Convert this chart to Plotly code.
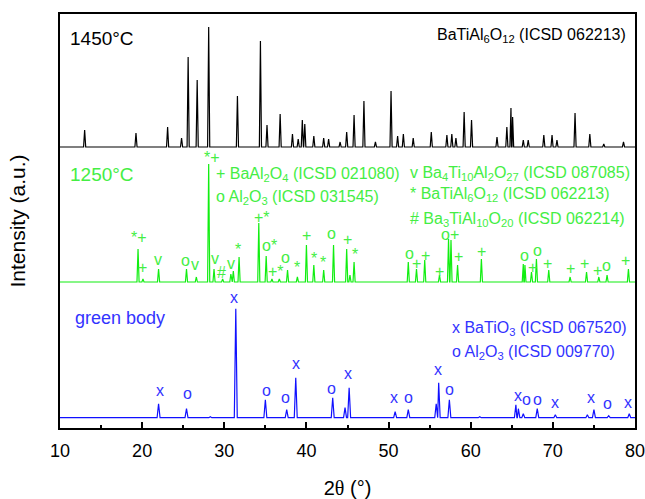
import plotly.graph_objects as go

# ---------------- data ----------------
# 2theta (deg) of peaks and peak heights above baseline (arbitrary units)
black_pos = [13.0, 19.25, 23.1, 24.8, 25.6, 26.7, 28.1, 31.6, 34.4, 35.2, 36.8, 38.3, 39.0, 39.5, 39.8,
             40.9, 42.1, 42.7, 44.1, 44.9, 45.8, 47.0, 48.4, 50.3, 51.1, 51.8, 53.0, 55.2, 57.1, 57.7,
             58.2, 59.2, 60.1, 63.2, 64.4, 64.9, 65.1, 66.4, 67.0, 68.9, 69.9, 70.5, 72.7, 74.5, 76.2, 78.6]
black_int = [17, 14, 20, 9, 90, 67, 120, 51, 106, 22, 33, 13, 8, 27, 23,
             11, 9, 8, 5, 15, 32, 46, 5, 56, 11, 13, 9, 15, 12, 13,
             9, 35, 27, 10, 20, 39, 30, 7, 7, 12, 12, 7, 34, 13, 3, 5]

green_pos = [19.5, 20.1, 22.0, 25.4, 26.6, 28.1, 28.75, 29.8, 30.8, 31.1, 31.8, 34.2, 35.1, 35.8, 36.7,
             37.7, 38.9, 40.0, 40.9, 42.1, 43.3, 44.9, 45.3, 45.8, 52.4, 53.4, 54.4, 56.2, 57.3, 57.6,
             58.4, 61.3, 66.4, 66.6, 67.4, 68.0, 69.5, 72.1, 74.1, 75.6, 76.6, 79.2]
green_int = [33, 3, 13, 13, 5, 118, 13, 3, 8, 11, 25, 59, 26, 3, 3,
             12, 5, 37, 17, 12, 37, 33, 7, 20, 20, 13, 22, 7, 43, 42,
             17, 23, 18, 17, 10, 23, 12, 5, 10, 5, 7, 13]

blue_pos = [22.0, 25.4, 28.3, 31.4, 35.0, 37.6, 38.7, 43.2, 44.7, 45.2, 50.8, 52.4, 55.8, 56.1, 57.4,
            61.1, 65.5, 65.8, 66.4, 68.1, 70.3, 74.2, 75.0, 76.8, 79.3]
blue_int = [14, 9, 1, 109, 18, 8, 40, 20, 10, 30, 6, 8, 14, 35, 18,
            1, 13, 9, 4, 9, 3, 3, 8, 2, 4]

# phase marks above the peaks: symbol, 2theta, level
green_mark_sym = ["*+", "*+", "+", "v", "o", "v", "v", "#", "v", "*", "+*", "o*", "+*", "o", "*", "+", "*", "*",
                  "o", "+", "*", "o", "+", "+", "+", "o+", "+", "+", "o", "+", "o", "+", "+", "+", "+", "o", "+"]
green_mark_x = [28.5, 19.6, 20.1, 21.9, 25.3, 26.4, 28.9, 29.7, 30.8, 31.7, 34.6, 35.5, 36.3, 37.5, 38.9, 40.0,
                40.9, 42.0, 43.1, 45.0, 45.9, 52.5, 53.4, 54.5, 56.2, 57.5, 58.5, 61.3, 66.5, 67.5, 68.1, 69.4,
                72.2, 73.9, 75.4, 76.5, 78.9]
green_mark_y = [271, 191, 161, 169, 168, 164, 170, 156, 165, 179, 211, 183, 157, 171, 161, 193,
                170, 166, 195, 189, 174, 175, 165, 173, 157, 194, 172, 177, 173, 161, 178, 165,
                160, 165, 158, 163, 168]

blue_mark_sym = ["x", "o", "x", "o", "o", "x", "o", "x", "x", "o", "x", "o", "x", "o", "o", "x", "x", "o", "x"]
blue_mark_x = [22.2, 25.5, 31.2, 35.1, 37.5, 38.7, 43.1, 45.0, 50.7, 52.4, 56.0, 57.4, 65.8, 66.8, 68.1,
               70.2, 74.7, 76.7, 79.1]
blue_mark_y = [38, 35, 131, 38, 31, 65, 40, 55, 31, 31, 59, 39, 33, 29, 29, 26, 31, 25, 26]

x_ticks = [10, 20, 30, 40, 50, 60, 70, 80]

# ---------------- styling ----------------
FONT = "Liberation Sans, Arial, sans-serif"
SERIF = "Liberation Serif, Times New Roman, serif"
BLACK = "#000000"
GREEN_LINE = "#11ee11"
GREEN_TXT = "#44ee44"
BLUE_LINE = "#1010ff"
BLUE_TXT = "#3333ff"

offsets = {"black": 281, "green": 146, "blue": 10.3}
half_w = {"black": 0.13, "green": 0.13, "blue": 0.18}


def profile(pos, inten, base, w):
    pts = [(10.0, base)]
    for p, h in zip(pos, inten):
        pts += [(p - w, base), (p, base + h), (p + w, base)]
    pts.append((80.0, base))
    pts.sort(key=lambda t: t[0])
    return [t[0] for t in pts], [t[1] for t in pts]


fig = go.Figure()
for name, pos, inten, col in [("blue", blue_pos, blue_int, BLUE_LINE),
                              ("green", green_pos, green_int, GREEN_LINE),
                              ("black", black_pos, black_int, BLACK)]:
    xs, ys = profile(pos, inten, offsets[name], half_w[name])
    fig.add_trace(go.Scatter(x=xs, y=ys, mode="lines", line=dict(color=col, width=1.2),
                             showlegend=False, hoverinfo="skip"))

ann = []
for s, x, y in zip(green_mark_sym, green_mark_x, green_mark_y):
    ann.append(dict(x=x, y=y, text=s, showarrow=False, font=dict(family=FONT, size=16, color=GREEN_TXT),
                    xanchor="center", yanchor="middle"))
for s, x, y in zip(blue_mark_sym, blue_mark_x, blue_mark_y):
    ann.append(dict(x=x, y=y, text=s, showarrow=False, font=dict(family=FONT, size=16, color=BLUE_TXT),
                    xanchor="center", yanchor="middle"))


def label(x, y, text, color, size=16, xanchor="left"):
    ann.append(dict(x=x, y=y, text=text, showarrow=False, font=dict(family=FONT, size=size, color=color),
                    xanchor=xanchor, yanchor="middle"))


label(11.0, 390, "1450°C", BLACK, size=19)
label(79.2, 393, "BaTiAl<sub>6</sub>O<sub>12</sub> (ICSD 062213)", BLACK, xanchor="right")
label(11.0, 254, "1250°C", GREEN_TXT, size=19)
label(28.8, 254, "+ BaAl<sub>2</sub>O<sub>4</sub> (ICSD 021080)", GREEN_TXT)
label(28.8, 231, "o Al<sub>2</sub>O<sub>3</sub> (ICSD 031545)", GREEN_TXT)
label(52.4, 255, "v Ba<sub>4</sub>Ti<sub>10</sub>Al<sub>2</sub>O<sub>27</sub> (ICSD 087085)", GREEN_TXT)
label(52.4, 234, "* BaTiAl<sub>6</sub>O<sub>12</sub> (ICSD 062213)", GREEN_TXT)
label(52.4, 209, "# Ba<sub>3</sub>TiAl<sub>10</sub>O<sub>20</sub> (ICSD 062214)", GREEN_TXT)
label(11.6, 110, "green body", BLUE_TXT, size=18)
label(57.5, 100, "x BaTiO<sub>3</sub> (ICSD 067520)", BLUE_TXT)
label(57.5, 76, "o Al<sub>2</sub>O<sub>3</sub> (ICSD 009770)", BLUE_TXT)

x_title = "2<span style='font-family:" + SERIF + "'>θ</span> (°)"

fig.update_layout(
    width=645, height=499,
    margin=dict(l=60, r=10, t=14, b=71),
    paper_bgcolor="white", plot_bgcolor="white",
    font=dict(family=FONT, color=BLACK),
    annotations=ann,
    xaxis=dict(range=[10, 80], tickvals=x_ticks, ticktext=[str(v) for v in x_ticks],
               ticks="inside", ticklen=6, tickwidth=2, tickcolor=BLACK,
               minor=dict(dtick=5, ticks="inside", ticklen=3, tickwidth=2, tickcolor=BLACK),
               showline=True, linewidth=2, linecolor=BLACK, mirror=True, automargin=False,
               showgrid=False, zeroline=False, tickfont=dict(size=18, family=FONT),
               ticklabelstandoff=5, ticklabeloverflow="allow",
               title=dict(text=x_title, font=dict(size=20, family=FONT), standoff=26)),
    yaxis=dict(range=[0, 414], showticklabels=False, ticks="", automargin=False,
               showline=True, linewidth=2, linecolor=BLACK, mirror=True,
               showgrid=False, zeroline=False,
               title=dict(text="Intensity (a.u.)", font=dict(size=21, family=FONT), standoff=27)),
)

# remove the page's default body margin so the 645x499 figure fills the window exactly
fig.write_html("out.html", config={"displayModeBar": False},
               post_script="document.body.style.margin='0px';document.body.style.overflow='hidden';")
